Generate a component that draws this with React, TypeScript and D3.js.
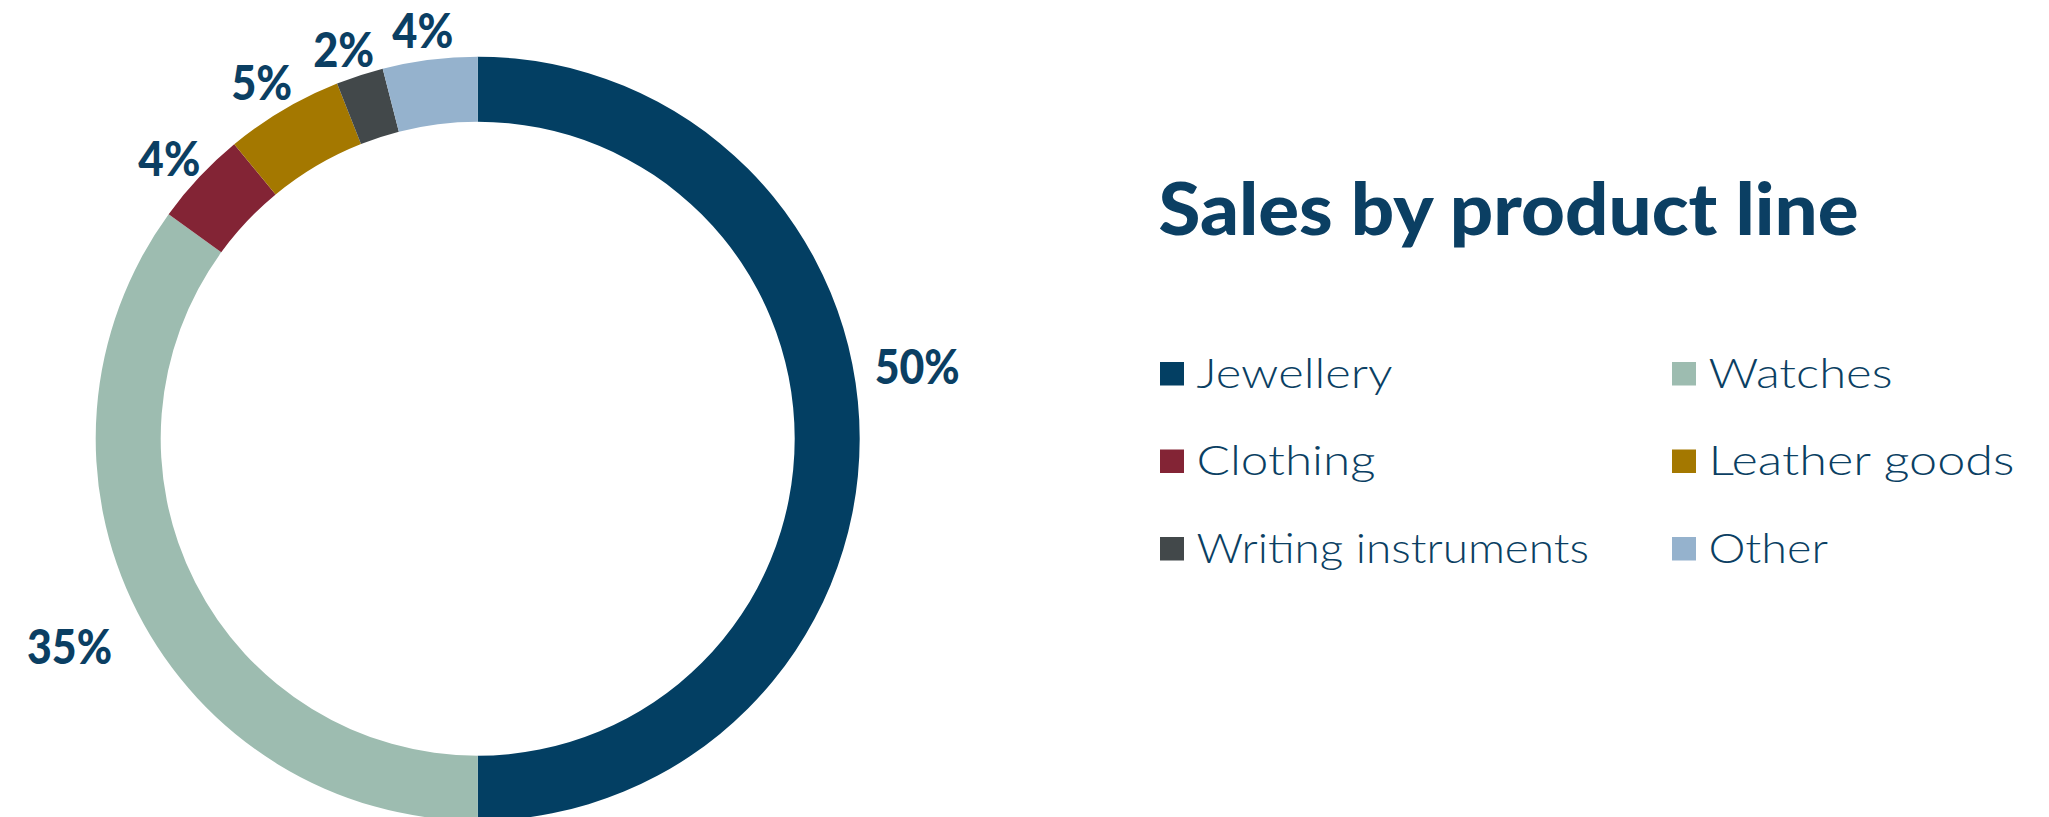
import React from 'react';
import * as d3 from 'd3';

// Share of sales per product line, in percent
const categories = ['Jewellery', 'Watches', 'Clothing', 'Leather goods', 'Writing instruments', 'Other'];
const shares = [50, 35, 4, 5, 2, 4];
const palette = ['#033F63', '#9DBCB0', '#832435', '#A47800', '#42484A', '#95B2CD'];

const title = 'Sales by product line';

// Layout
const W = 2049;
const H = 817;
const cx = 477.7;
const cy = 438.7;
const rOuter = 382;
const rInner = 317;
const textColor = '#0B3F63';
const fontFamily = 'Lato, "Open Sans", sans-serif';

// Value labels sit just outside the ring
const labelRadius = 392;
const labelFont = 47;
const labelCap = 34;
const labelWidths = [85, 85, 62, 61, 61, 61];
const labelNudge: [number, number][] = [[5, -72], [-21, 23], [0, 0], [-1, -4], [-3.5, 0], [-2, -2]];

// Legend grid
const legendCols = [1160, 1672];
const legendTextOffset = 36.5;
const legendBaseline0 = 387.5;
const legendRowStep = 87.5;
const legendFont = 42;
const legendTextWidths = [196, 184, 179, 306, 392.5, 119.5];
const swatchW = 24;
const swatchH = 23.5;

export default function App() {
  const pie = d3
    .pie<number>()
    .sort(null)
    .value((d) => d)
    .startAngle(0)
    .endAngle(2 * Math.PI);
  const arcs = pie(shares);
  const arc = d3.arc<d3.PieArcDatum<number>>().innerRadius(rInner).outerRadius(rOuter);

  return (
    <svg
      width={W}
      height={H}
      viewBox={`0 0 ${W} ${H}`}
      style={{ position: 'absolute', left: 0, top: 0, background: '#fff' }}
    >
      <g transform={`translate(${cx},${cy})`}>
        {arcs.map((a, i) => (
          <path key={categories[i]} d={arc(a) ?? ''} fill={palette[i]} />
        ))}
        {arcs.map((a, i) => {
          const mid = (a.startAngle + a.endAngle) / 2;
          const s = Math.sin(mid);
          const c = Math.cos(mid);
          const ax = s * labelRadius;
          const ay = -c * labelRadius;
          const w = labelWidths[i];
          const x = ax + (s * w) / 2 + labelNudge[i][0];
          const y = ay - (c * labelCap) / 2 + labelNudge[i][1];
          return (
            <text
              key={'lbl' + i}
              x={x - w / 2}
              y={y + labelCap / 2}
              fontFamily={fontFamily}
              fontWeight={900}
              fontSize={labelFont}
              fill={textColor}
              textLength={w}
              lengthAdjust="spacingAndGlyphs"
            >
              {`${shares[i]}%`}
            </text>
          );
        })}
      </g>

      <text
        x={1158.5}
        y={235}
        fontFamily={fontFamily}
        fontWeight={900}
        fontSize={72}
        fill={textColor}
        textLength={700}
        lengthAdjust="spacingAndGlyphs"
      >
        {title}
      </text>

      {categories.map((cat, i) => {
        const col = i % 2;
        const row = Math.floor(i / 2);
        const base = legendBaseline0 + row * legendRowStep;
        const x0 = legendCols[col];
        return (
          <g key={'leg' + cat}>
            <rect x={x0} y={base - 25.5} width={swatchW} height={swatchH} fill={palette[i]} />
            <text
              x={x0 + legendTextOffset}
              y={base}
              fontFamily={fontFamily}
              fontWeight={300}
              fontSize={legendFont}
              fill={textColor}
              textLength={legendTextWidths[i]}
              lengthAdjust="spacingAndGlyphs"
            >
              {cat}
            </text>
          </g>
        );
      })}
    </svg>
  );
}
